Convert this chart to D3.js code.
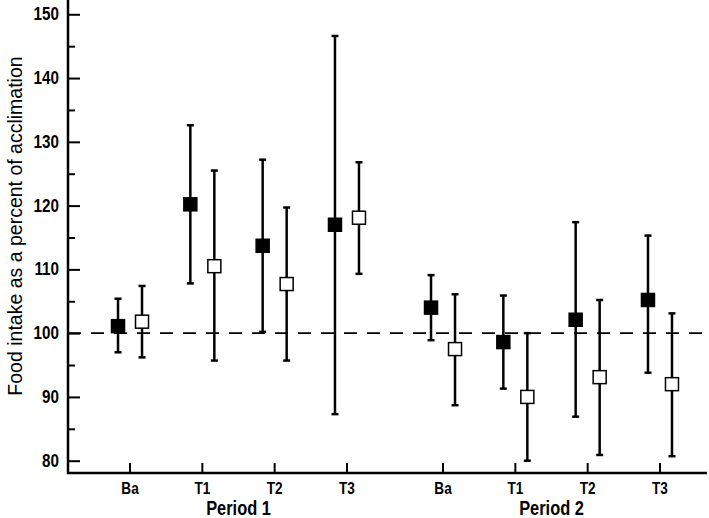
<!DOCTYPE html>
<html>
<head>
<meta charset="utf-8">
<script src="https://cdn.jsdelivr.net/npm/d3@7"></script>
<style>
  body { margin: 0; background: #fff; }
  text { fill: #000; }
</style>
</head>
<body>
<div id="chart"></div>
<script>
var periods = ['Period 1', 'Period 2'];
var categories = ['Ba', 'T1', 'T2', 'T3'];
var series = ['filled', 'open'];

// filled squares
var filledMean  = [[101.1, 120.2, 113.7, 117.0], [104.0, 98.6, 102.1, 105.2]];
var filledUpper = [[105.4, 132.6, 127.2, 146.6], [109.1, 105.9, 117.4, 115.3]];
var filledLower = [[97.0, 107.8, 100.2, 87.3], [98.9, 91.3, 86.9, 93.8]];
// open squares
var openMean  = [[101.8, 110.5, 107.7, 118.1], [97.5, 90.0, 93.1, 92.0]];
var openUpper = [[107.4, 125.5, 119.7, 126.8], [106.1, 100.0, 105.2, 103.1]];
var openLower = [[96.2, 95.7, 95.7, 109.3], [88.7, 80.0, 80.9, 80.7]];

var yTicks = [80, 90, 100, 110, 120, 130, 140, 150];
var yMinor = [85, 95, 105, 115, 125, 135, 145];
var refLine = 100;
var yTitle = 'Food intake as a percent of acclimation';

var width = 709, height = 518;
var axisX = 68, axisY = 473;

var svg = d3.select('#chart').append('svg').attr('width', width).attr('height', height);

var y = d3.scaleLinear().domain([78.07, 152.24]).range([axisY, 0]);
var xPeriod = d3.scaleBand().domain(periods).range([82, 708]);
var xCat = d3.scalePoint().domain(categories).range([0, xPeriod.bandwidth()]).padding(0.664);
var xSeries = d3.scalePoint().domain(series).range([-12, 12]);

var points = [];
periods.forEach(function(p, pi) {
  categories.forEach(function(c, ci) {
    points.push({period: p, cat: c, s: 'filled', mean: filledMean[pi][ci], hi: filledUpper[pi][ci], lo: filledLower[pi][ci]});
    points.push({period: p, cat: c, s: 'open', mean: openMean[pi][ci], hi: openUpper[pi][ci], lo: openLower[pi][ci]});
  });
});
function px(d) { return xPeriod(d.period) + xCat(d.cat) + xSeries(d.s); }

var font = '"Liberation Sans", Arial, sans-serif';

// squeeze bold labels to look like the condensed face of the original
function condense(sel, k) {
  sel.each(function() {
    var len = this.getComputedTextLength();
    d3.select(this).attr('textLength', len * k).attr('lengthAdjust', 'spacingAndGlyphs');
  });
}

// y axis
var yAxis = svg.append('g').attr('transform', 'translate(' + axisX + ',0)')
  .call(d3.axisLeft(y).tickValues(yTicks).tickSize(-12).tickPadding(9).tickFormat(d3.format('d')));
yAxis.select('.domain').remove();
yAxis.selectAll('line').attr('stroke', '#000').attr('stroke-width', 2);
yAxis.selectAll('text').style('font-family', font).style('font-weight', 'bold').style('font-size', '17.5px')
  .call(condense, 0.87);
var yAxisMinor = svg.append('g').attr('transform', 'translate(' + axisX + ',0)')
  .call(d3.axisLeft(y).tickValues(yMinor).tickSize(-7).tickFormat(''));
yAxisMinor.select('.domain').remove();
yAxisMinor.selectAll('line').attr('stroke', '#000').attr('stroke-width', 2);

// x ticks
var tickData = [];
periods.forEach(function(p) { categories.forEach(function(c) { tickData.push({period: p, cat: c}); }); });
svg.selectAll('.xtick').data(tickData).enter().append('line')
  .attr('x1', function(d) { return xPeriod(d.period) + xCat(d.cat); })
  .attr('x2', function(d) { return xPeriod(d.period) + xCat(d.cat); })
  .attr('y1', axisY).attr('y2', axisY - 10)
  .attr('stroke', '#000').attr('stroke-width', 2);
svg.selectAll('.xlab').data(tickData).enter().append('text')
  .attr('x', function(d) { return xPeriod(d.period) + xCat(d.cat); })
  .attr('y', 494)
  .attr('text-anchor', 'middle')
  .style('font-family', font).style('font-weight', 'bold').style('font-size', '17px')
  .text(function(d) { return d.cat; })
  .call(condense, 0.8);
svg.selectAll('.plab').data(periods).enter().append('text')
  .attr('x', function(d) { return xPeriod(d) + xPeriod.bandwidth() / 2; })
  .attr('y', 515)
  .attr('text-anchor', 'middle')
  .style('font-family', font).style('font-weight', 'bold').style('font-size', '20px')
  .text(function(d) { return d; })
  .call(condense, 0.82);

// reference line
svg.append('line')
  .attr('x1', axisX).attr('x2', 707)
  .attr('y1', y(refLine)).attr('y2', y(refLine))
  .attr('stroke', '#000').attr('stroke-width', 1.6).attr('stroke-dasharray', '13,10');

// axis lines
svg.append('line').attr('x1', axisX).attr('x2', axisX).attr('y1', 0).attr('y2', axisY + 1)
  .attr('stroke', '#000').attr('stroke-width', 2.5);
svg.append('line').attr('x1', axisX - 1).attr('x2', 707).attr('y1', axisY).attr('y2', axisY)
  .attr('stroke', '#000').attr('stroke-width', 2.5);

// error bars
var bars = svg.selectAll('.bar').data(points).enter().append('g');
bars.append('line')
  .attr('x1', px).attr('x2', px)
  .attr('y1', function(d) { return y(d.hi); }).attr('y2', function(d) { return y(d.lo); })
  .attr('stroke', '#000').attr('stroke-width', 2.5);
bars.append('line')
  .attr('x1', function(d) { return px(d) - 3.5; }).attr('x2', function(d) { return px(d) + 3.5; })
  .attr('y1', function(d) { return y(d.hi); }).attr('y2', function(d) { return y(d.hi); })
  .attr('stroke', '#000').attr('stroke-width', 2.5);
bars.append('line')
  .attr('x1', function(d) { return px(d) - 3.5; }).attr('x2', function(d) { return px(d) + 3.5; })
  .attr('y1', function(d) { return y(d.lo); }).attr('y2', function(d) { return y(d.lo); })
  .attr('stroke', '#000').attr('stroke-width', 2.5);

// squares
bars.append('rect')
  .attr('x', function(d) { return px(d) - 6.5; })
  .attr('y', function(d) { return y(d.mean) - 6.5; })
  .attr('width', 13).attr('height', 13)
  .attr('fill', function(d) { return d.s === 'filled' ? '#000' : '#fff'; })
  .attr('stroke', '#000').attr('stroke-width', 1.5);

// y title
svg.append('text')
  .attr('transform', 'translate(22,226) rotate(-90)')
  .attr('text-anchor', 'middle')
  .style('font-family', font).style('font-size', '19.5px')
  .text(yTitle);
</script>
</body>
</html>
